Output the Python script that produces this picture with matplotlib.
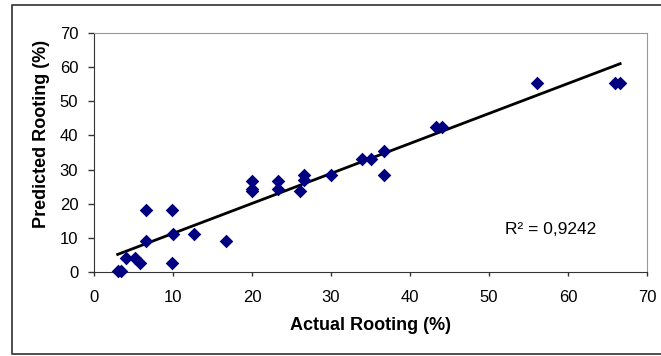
import matplotlib
matplotlib.use("Agg")
import matplotlib.pyplot as plt
from matplotlib.lines import Line2D
import numpy as np

actual = [3.0, 3.4, 4.1, 5.2, 5.8, 6.6, 6.6, 9.9, 10.0, 9.9, 12.7, 16.7,
          20.0, 20.0, 20.0, 23.3, 23.3, 26.1, 26.6, 26.6, 30.0, 33.9, 35.0,
          36.7, 36.7, 43.3, 44.1, 56.1, 65.9, 66.6]
predicted = [0.4, 0.4, 4.2, 4.2, 2.6, 18.3, 9.1, 18.3, 11.2, 2.6, 11.2, 9.0,
             26.8, 24.2, 23.8, 26.8, 24.2, 23.8, 28.3, 26.9, 28.3, 33.2, 33.0,
             35.4, 28.3, 42.5, 42.5, 55.2, 55.2, 55.2]
trend_coef = [0.876, 2.6]
r2_label = "R² = 0,9242"
xticks = [0, 10, 20, 30, 40, 50, 60, 70]
yticks = [0, 10, 20, 30, 40, 50, 60, 70]

plt.rcParams['font.family'] = ['Liberation Sans', 'DejaVu Sans']

W, H = 661, 356
fig = plt.figure(figsize=(W/100, H/100), dpi=100)
L, R, T, B = 94, 647, 32.7, 272.3
ax = fig.add_axes([L/W, 1-B/H, (R-L)/W, (B-T)/H])

ax.scatter(actual, predicted, marker='D', s=48, color='#000080', zorder=3, linewidths=0,
           clip_on=False)
xs = np.array([min(actual), max(actual)])
ax.plot(xs, np.polyval(trend_coef, xs), color='black', lw=2, zorder=2)

ax.set_xlim(0, 70)
ax.set_ylim(0, 70)
ax.set_xticks(xticks)
ax.set_yticks(yticks)
ax.tick_params(axis='x', direction='out', length=3.1, width=1, labelsize=12,
               color='#333333', pad=10)
ax.tick_params(axis='y', direction='out', length=4.3, width=1, labelsize=12,
               color='#333333', pad=7)
for s in ['top', 'right']:
    ax.spines[s].set_color('#999999')
for s in ['left', 'bottom']:
    ax.spines[s].set_color('#333333')
ax.set_xlabel("Actual Rooting (%)", fontsize=13, fontweight='bold', va='center')
ax.xaxis.set_label_coords(0.5, (B-325)/(B-T))
ax.set_ylabel("Predicted Rooting (%)", fontsize=13, fontweight='bold', va='center')
ax.yaxis.set_label_coords((42-L)/(R-L), (B-134)/(B-T))
ax.text((551-L)/(R-L), (B-230)/(B-T), r2_label, fontsize=12.5, va='center', ha='center',
        transform=ax.transAxes)

# outer chart frame (right edge lies outside the image)
frame_x = [700/W, 12/W, 12/W, 700/W]
frame_y = [1-5/H, 1-5/H, 1-354/H, 1-354/H]
fig.lines.append(Line2D(frame_x, frame_y, transform=fig.transFigure,
                        color='#404040', lw=1.3))

fig.savefig("out.png", dpi=100)
